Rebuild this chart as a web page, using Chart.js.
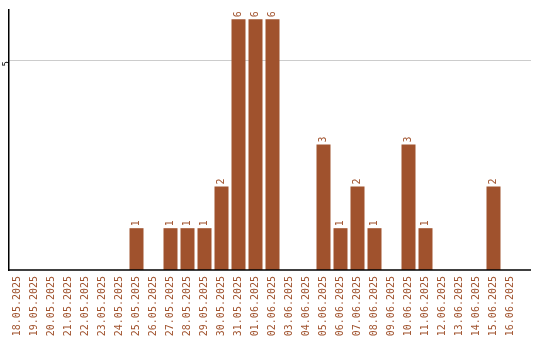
<!DOCTYPE html>
<html>
<head>
<meta charset="utf-8">
<script src="https://cdn.jsdelivr.net/npm/chart.js@4.4.0/dist/chart.umd.min.js"></script>
<style>
  html, body { margin: 0; padding: 0; background: #fff; }
  #wrap { width: 540px; height: 340px; }
</style>
</head>
<body>
<div id="wrap"><canvas id="grafico"></canvas></div>
<script>
// datos
const fechas = [
  '18.05.2025', '19.05.2025', '20.05.2025', '21.05.2025', '22.05.2025',
  '23.05.2025', '24.05.2025', '25.05.2025', '26.05.2025', '27.05.2025',
  '28.05.2025', '29.05.2025', '30.05.2025', '31.05.2025', '01.06.2025',
  '02.06.2025', '03.06.2025', '04.06.2025', '05.06.2025', '06.06.2025',
  '07.06.2025', '08.06.2025', '09.06.2025', '10.06.2025', '11.06.2025',
  '12.06.2025', '13.06.2025', '14.06.2025', '15.06.2025', '16.06.2025'
];
const cantidades = [0, 0, 0, 0, 0, 0, 0, 1, 0, 1, 1, 1, 2, 6, 6, 6, 0, 0, 3, 1, 2, 1, 0, 3, 1, 0, 0, 0, 2, 0];
const ticksY = [5];

const marron = '#A0522D';
const fuente = { family: '"DejaVu Sans Mono", monospace', size: 10 };
const finEje = 531;

// prolonga rejilla y eje x hasta el borde, y pone los valores girados
const etiquetasValor = {
  id: 'etiquetasValor',
  beforeDatasetsDraw(chart) {
    const ctx = chart.ctx;
    const area = chart.chartArea;
    const y = chart.scales.y;
    ctx.save();
    ctx.strokeStyle = '#cccccc';
    ctx.lineWidth = 1;
    ticksY.forEach(v => {
      const py = Math.round(y.getPixelForValue(v) - 0.5) + 0.5;
      ctx.beginPath();
      ctx.moveTo(area.right - 1, py);
      ctx.lineTo(finEje, py);
      ctx.stroke();
    });
    ctx.restore();
  },
  afterDatasetsDraw(chart) {
    const ctx = chart.ctx;
    const meta = chart.getDatasetMeta(0);
    ctx.save();
    ctx.fillStyle = marron;
    ctx.font = '10px "DejaVu Sans Mono", monospace';
    ctx.textAlign = 'left';
    ctx.textBaseline = 'middle';
    meta.data.forEach((bar, i) => {
      const v = cantidades[i];
      if (!v) return;
      ctx.save();
      ctx.translate(bar.x, bar.y - 2);
      ctx.rotate(-Math.PI / 2);
      ctx.fillText(String(v), 0, 0);
      ctx.restore();
    });
    const area = chart.chartArea;
    ctx.strokeStyle = '#000';
    ctx.lineWidth = 1.5;
    ctx.beginPath();
    ctx.moveTo(area.left, area.bottom);
    ctx.lineTo(finEje, area.bottom);
    ctx.stroke();
    ctx.restore();
  }
};

new Chart(document.getElementById('grafico'), {
  type: 'bar',
  data: {
    labels: fechas,
    datasets: [{
      data: cantidades,
      backgroundColor: marron,
      borderWidth: 0,
      categoryPercentage: 1,
      barPercentage: 14 / 17
    }]
  },
  options: {
    responsive: true,
    maintainAspectRatio: false,
    animation: false,
    layout: { padding: { top: 10, right: 21, left: 0, bottom: 0 } },
    plugins: {
      legend: { display: false },
      tooltip: { enabled: false }
    },
    scales: {
      x: {
        grid: { display: false, drawTicks: false },
        border: { display: false },
        ticks: {
          color: marron,
          font: fuente,
          minRotation: 90,
          maxRotation: 90,
          autoSkip: false,
          padding: 6
        },
        afterFit: s => { s.height = 70; }
      },
      y: {
        min: 0,
        max: 6.22,
        afterBuildTicks: s => { s.ticks = ticksY.map(v => ({ value: v })); },
        grid: { color: '#cccccc', drawTicks: false, lineWidth: 1 },
        border: { display: true, color: '#000', width: 1.5 },
        ticks: {
          color: '#000',
          font: { family: '"DejaVu Sans Mono", monospace', size: 9 },
          minRotation: 90,
          maxRotation: 90,
          padding: 2
        },
        afterFit: s => { s.width = 9; }
      }
    }
  },
  plugins: [etiquetasValor]
});
</script>
</body>
</html>
